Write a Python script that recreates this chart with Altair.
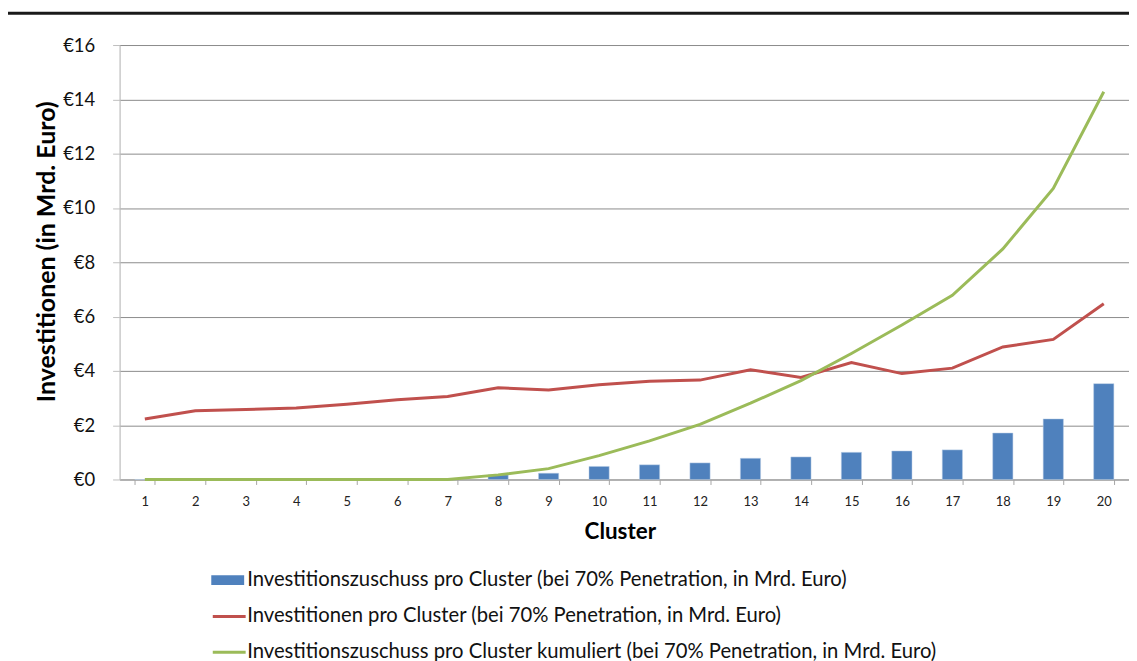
import altair as alt
import pandas as pd

clusters = list(range(1, 21))
zuschuss = [0, 0, 0, 0, 0, 0, 0, 0.17, 0.23, 0.48, 0.54, 0.61, 0.78, 0.83, 1.00, 1.05, 1.09, 1.71, 2.23, 3.53]
investitionen = [2.23, 2.53, 2.58, 2.63, 2.77, 2.94, 3.06, 3.38, 3.30, 3.49, 3.62, 3.66, 4.04, 3.76, 4.31, 3.90, 4.10, 4.88, 5.16, 6.47]
kumuliert = [0, 0, 0, 0, 0, 0, 0, 0.17, 0.40, 0.88, 1.42, 2.03, 2.81, 3.64, 4.64, 5.69, 6.78, 8.49, 10.72, 14.28]

S_BAR = "Investitionszuschuss pro Cluster (bei 70% Penetration, in Mrd. Euro)"
S_RED = "Investitionen pro Cluster (bei 70% Penetration, in Mrd. Euro)"
S_GREEN = "Investitionszuschuss pro Cluster kumuliert (bei 70% Penetration, in Mrd. Euro)"

FONT = "Lato"

bar_df = pd.DataFrame({"Cluster": clusters, "Wert": zuschuss, "Serie": S_BAR})
line_df = pd.concat([
    pd.DataFrame({"Cluster": clusters, "Wert": investitionen, "Serie": S_RED}),
    pd.DataFrame({"Cluster": clusters, "Wert": kumuliert, "Serie": S_GREEN}),
])

x_enc = alt.X(
    "Cluster:O",
    title="Cluster",
    scale=alt.Scale(paddingInner=0.6, paddingOuter=0.3),
    axis=alt.Axis(
        labelAngle=0, labelFontSize=13, labelColor="#222", labelFont=FONT,
        labelPadding=11, tickBand="extent", tickSize=5, tickColor="#a6a6a6",
        domainColor="#a6a6a6", grid=False,
        titleFont=FONT, titleFontSize=22.5, titleFontWeight="bold", titlePadding=12,
        titleColor="#000", titleX=502,
    ),
)
y_scale = alt.Scale(domain=[0, 16], nice=False)
y_axis = alt.Axis(
    values=[0, 2, 4, 6, 8, 10, 12, 14, 16],
    labelExpr="'€' + datum.value",
    labelFontSize=18.5, labelFont=FONT, labelColor="#111", labelPadding=18,
    tickSize=7, tickColor="#bfbfbf", domainColor="#bfbfbf",
    gridColor="#8c8c8c", gridWidth=1,
    title="Investitionen (in Mrd. Euro)", titleFont=FONT, titleFontSize=25,
    titleFontWeight="bold", titleColor="#000", titlePadding=3, titleY=207,
)

bars = alt.Chart(bar_df).mark_bar(stroke="#b8cce4", strokeWidth=0.5).encode(
    x=x_enc,
    y=alt.Y("Wert:Q", scale=y_scale, axis=y_axis),
    fill=alt.Fill(
        "Serie:N",
        scale=alt.Scale(domain=[S_BAR], range=["#4F81BD"]),
        legend=alt.Legend(
            title=None, orient="none", legendX=92, legendY=520.5,
            symbolType="M-1,-0.3H1V0.3H-1Z", symbolSize=1089,
            symbolStrokeWidth=0, labelFontSize=20.3, labelFont=FONT,
            labelColor="#111", labelOffset=3, padding=0, labelLimit=1000,
        ),
    ),
)

lines = alt.Chart(line_df).mark_line(strokeWidth=3).encode(
    x=alt.X("Cluster:O"),
    y=alt.Y("Wert:Q", scale=y_scale),
    stroke=alt.Stroke(
        "Serie:N",
        scale=alt.Scale(domain=[S_RED, S_GREEN], range=["#C0504D", "#9BBB59"]),
        legend=alt.Legend(
            title=None, orient="none", legendX=92, legendY=555.5,
            symbolType="stroke", symbolSize=1089, symbolStrokeWidth=3,
            labelFontSize=20.3, labelFont=FONT, labelColor="#111",
            labelOffset=0, rowPadding=7, padding=0, labelLimit=1000,
        ),
    ),
    order=alt.Order("Cluster:Q"),
)

top_rule = alt.Chart(alt.Data(values=[{"a": 1}])).mark_rule(
    color="#1a1a1a", strokeWidth=3
).encode(x=alt.value(-115), x2=alt.value(1017), y=alt.value(-32))

chart = alt.layer(bars, lines, top_rule).resolve_scale(
    fill="independent", stroke="independent"
).properties(
    width=1013,
    height=436,
    autosize=alt.AutoSizeParams(type="none"),
    padding={"left": 112, "top": 36, "right": 0, "bottom": 181},
).configure_view(stroke=None).configure(background="white")

chart.save("out.html", embed_options={"renderer": "svg", "actions": False})
